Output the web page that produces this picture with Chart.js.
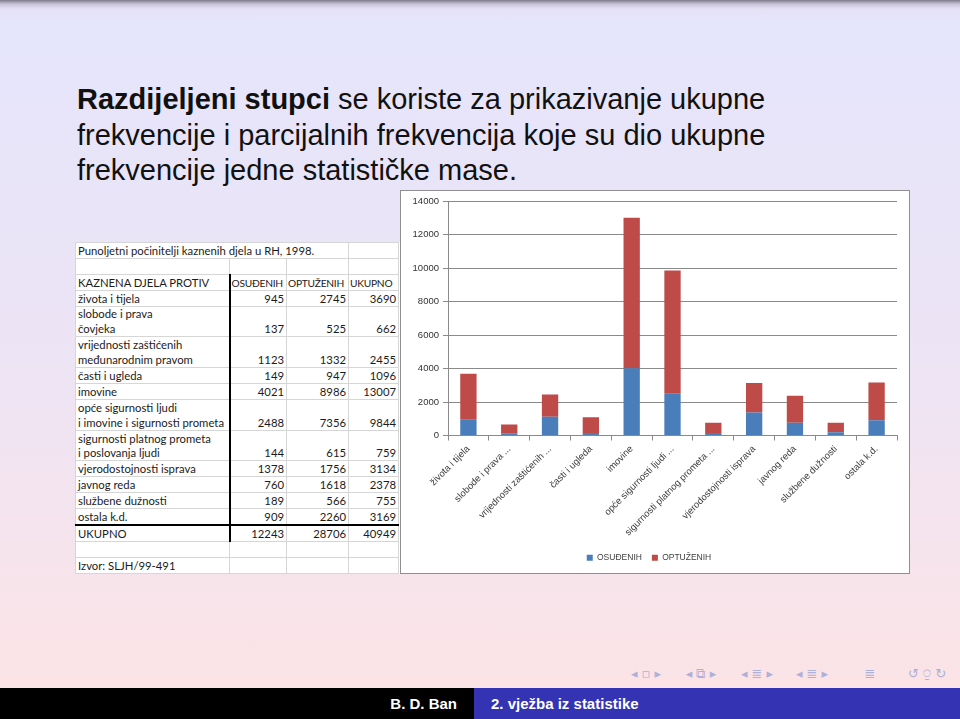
<!DOCTYPE html>
<html>
<head>
<meta charset="utf-8">
<script src="https://cdn.jsdelivr.net/npm/chart.js@4.4.1/dist/chart.umd.min.js"></script>
<style>
  html, body { margin: 0; padding: 0; }
  body {
    width: 960px; height: 719px; position: relative; overflow: hidden;
    font-family: "Liberation Sans", Arial, sans-serif;
    background: linear-gradient(to bottom, #7d7a8a 0px, #c9c3d8 4px, #e6e2f6 9px, #e5e5fb 20px, #ede4f5 360px, #fbe3e6 680px);
  }
  #title {
    position: absolute; left: 77px; top: 82px; width: 880px; white-space: nowrap;
    font-size: 29px; line-height: 35.5px; color: #111;
  }
  #tableBox {
    position: absolute; left: 75px; top: 242px; width: 325px; height: 332px;
    background: #fff;
  }
  #tbl {
    border-collapse: collapse; table-layout: fixed; width: 323px;
    font-family: Lato, "Liberation Sans", sans-serif; font-size: 11.3px; color: #1b1b1b;
  }
  #tbl td {
    height: 14.9px; padding: 0 2px; line-height: 14px; white-space: nowrap;
    border: 1px solid #d6d6d6; vertical-align: bottom; overflow: visible;
  }
  #tbl td.num { text-align: right; }
  #tbl td.cont { border-bottom: none; }
  #tbl td.contb { border-top: none; }
  #tbl td.thick { border-right: 2px solid #000; }
  #tbl td.hdr { font-size: 10.2px; letter-spacing: -0.25px; padding: 0 1px; }
  #tbl tr.total td { border-top: 2px solid #000; }
  #chartBox {
    position: absolute; left: 400px; top: 190px; width: 508px; height: 382px;
    background: #fff; border: 1px solid #8f8f8f;
  }
  #chartBox canvas { position: absolute; left: 0; top: 0; }
  .nav {
    position: absolute; top: 666px; font-family: "DejaVu Sans", sans-serif;
    font-size: 13px; color: #aeb0d8; white-space: pre; transform: translateX(-50%);
  }
  #footL {
    position: absolute; left: 0; top: 688px; width: 474px; height: 31px; background: #000;
    color: #fff; font-weight: bold; font-size: 15px; line-height: 31px; text-align: right;
    box-sizing: border-box; padding-right: 17px;
  }
  #footR {
    position: absolute; left: 474px; top: 688px; width: 486px; height: 31px; background: #3333b3;
    color: #fff; font-weight: bold; font-size: 15px; line-height: 31px;
    box-sizing: border-box; padding-left: 17px;
  }
</style>
</head>
<body>
<div id="title"><b>Razdijeljeni stupci</b> se koriste za prikazivanje ukupne<br>frekvencije i parcijalnih frekvencija koje su dio ukupne<br>frekvencije jedne statističke mase.</div>

<div id="tableBox"><table id="tbl">
  <colgroup><col style="width:154px"><col style="width:57px"><col style="width:62px"><col style="width:50px"></colgroup>
  <tbody id="tbody"></tbody>
</table></div>

<div id="chartBox"><canvas id="stackChart" width="508" height="382"></canvas></div>

<div class="nav" style="left:646px">◂ ▫ ▸</div>
<div class="nav" style="left:701px">◂ ⧉ ▸</div>
<div class="nav" style="left:757px">◂ ≣ ▸</div>
<div class="nav" style="left:812px">◂ ≣ ▸</div>
<div class="nav" style="left:870px">≣</div>
<div class="nav" style="left:927px">↺ ⍜ ↻</div>
<div id="footL">B. D. Ban</div>
<div id="footR">2. vježba iz statistike</div>

<script>
// chart data
const categories = ['života i tijela', 'slobode i prava ...', 'vrijednosti zaštićenih ...', 'časti i ugleda', 'imovine',
  'opće sigurnosti ljudi ...', 'sigurnosti platnog prometa ...', 'vjerodostojnosti isprava', 'javnog reda', 'službene dužnosti', 'ostala k.d.'];
const osudjenih = [945, 137, 1123, 149, 4021, 2488, 144, 1378, 760, 189, 909];
const optuzenih = [2745, 525, 1332, 947, 8986, 7356, 615, 1756, 1618, 566, 2260];
const ukupno = [3690, 662, 2455, 1096, 13007, 9844, 759, 3134, 2378, 755, 3169];
const totals = [12243, 28706, 40949];

// table row labels (some rows wrap into two lines)
const tableLabels = [['života i tijela'], ['slobode i prava', 'čovjeka'], ['vrijednosti zaštićenih', 'međunarodnim pravom'],
  ['časti i ugleda'], ['imovine'], ['opće sigurnosti ljudi', 'i imovine i sigurnosti prometa'],
  ['sigurnosti platnog prometa', 'i poslovanja ljudi'], ['vjerodostojnosti isprava'], ['javnog reda'],
  ['službene dužnosti'], ['ostala k.d.']];

// build the table
const tbody = document.getElementById('tbody');
function addRow(html, cls) {
  const tr = document.createElement('tr');
  if (cls) tr.className = cls;
  tr.innerHTML = html;
  tbody.appendChild(tr);
}
addRow('<td colspan="3">Punoljetni počinitelji kaznenih djela u RH, 1998.</td><td></td>');
addRow('<td></td><td></td><td></td><td></td>');
addRow('<td class="thick">KAZNENA DJELA PROTIV</td><td class="hdr">OSUĐENIH</td><td class="hdr">OPTUŽENIH</td><td class="hdr">UKUPNO</td>');
tableLabels.forEach((lines, i) => {
  if (lines.length === 2) {
    addRow('<td class="thick cont">' + lines[0] + '</td><td class="cont"></td><td class="cont"></td><td class="cont"></td>');
  }
  const c = lines.length === 2 ? ' contb' : '';
  addRow('<td class="thick' + c + '">' + lines[lines.length - 1] + '</td><td class="num' + c + '">' + osudjenih[i] +
    '</td><td class="num' + c + '">' + optuzenih[i] + '</td><td class="num' + c + '">' + ukupno[i] + '</td>');
});
addRow('<td class="thick">UKUPNO</td><td class="num">' + totals[0] + '</td><td class="num">' + totals[1] + '</td><td class="num">' + totals[2] + '</td>', 'total');
addRow('<td></td><td></td><td></td><td></td>');
addRow('<td>Izvor: SLJH/99-491</td><td></td><td></td><td></td>');

// the stacked bar chart
const ctx = document.getElementById('stackChart').getContext('2d');
new Chart(ctx, {
  type: 'bar',
  data: {
    labels: categories,
    datasets: [
      { label: 'OSUĐENIH', data: osudjenih, backgroundColor: '#4a7ebb', barPercentage: 0.4, categoryPercentage: 1 },
      { label: 'OPTUŽENIH', data: optuzenih, backgroundColor: '#be4b48', barPercentage: 0.4, categoryPercentage: 1 }
    ]
  },
  options: {
    responsive: false,
    animation: false,
    layout: { padding: { top: 10, right: 12, left: 0, bottom: 1 } },
    plugins: {
      tooltip: { enabled: false },
      legend: {
        position: 'bottom',
        labels: {
          font: { family: "'Liberation Sans'", size: 8.5 },
          color: '#404040',
          boxWidth: 6, boxHeight: 6, padding: 10
        }
      }
    },
    scales: {
      x: {
        stacked: true,
        grid: { offset: true, drawOnChartArea: false, tickLength: 5, color: '#8a8a8a' },
        border: { color: '#8a8a8a' },
        ticks: { minRotation: 45, maxRotation: 45, autoSkip: false, color: '#404040', font: { family: "'Liberation Sans'", size: 9.5 } },
        afterFit: (scale) => { scale.height = 108; }
      },
      y: {
        stacked: true,
        min: 0, max: 14000,
        ticks: { stepSize: 2000, color: '#333', padding: 4, font: { family: "'Liberation Sans'", size: 9.5 },
          callback: (v) => String(v) },
        grid: { color: '#8a8a8a', tickLength: 5 },
        border: { color: '#8a8a8a' },
        afterFit: (scale) => { scale.width = 47; }
      }
    }
  }
});
</script>
</body>
</html>
